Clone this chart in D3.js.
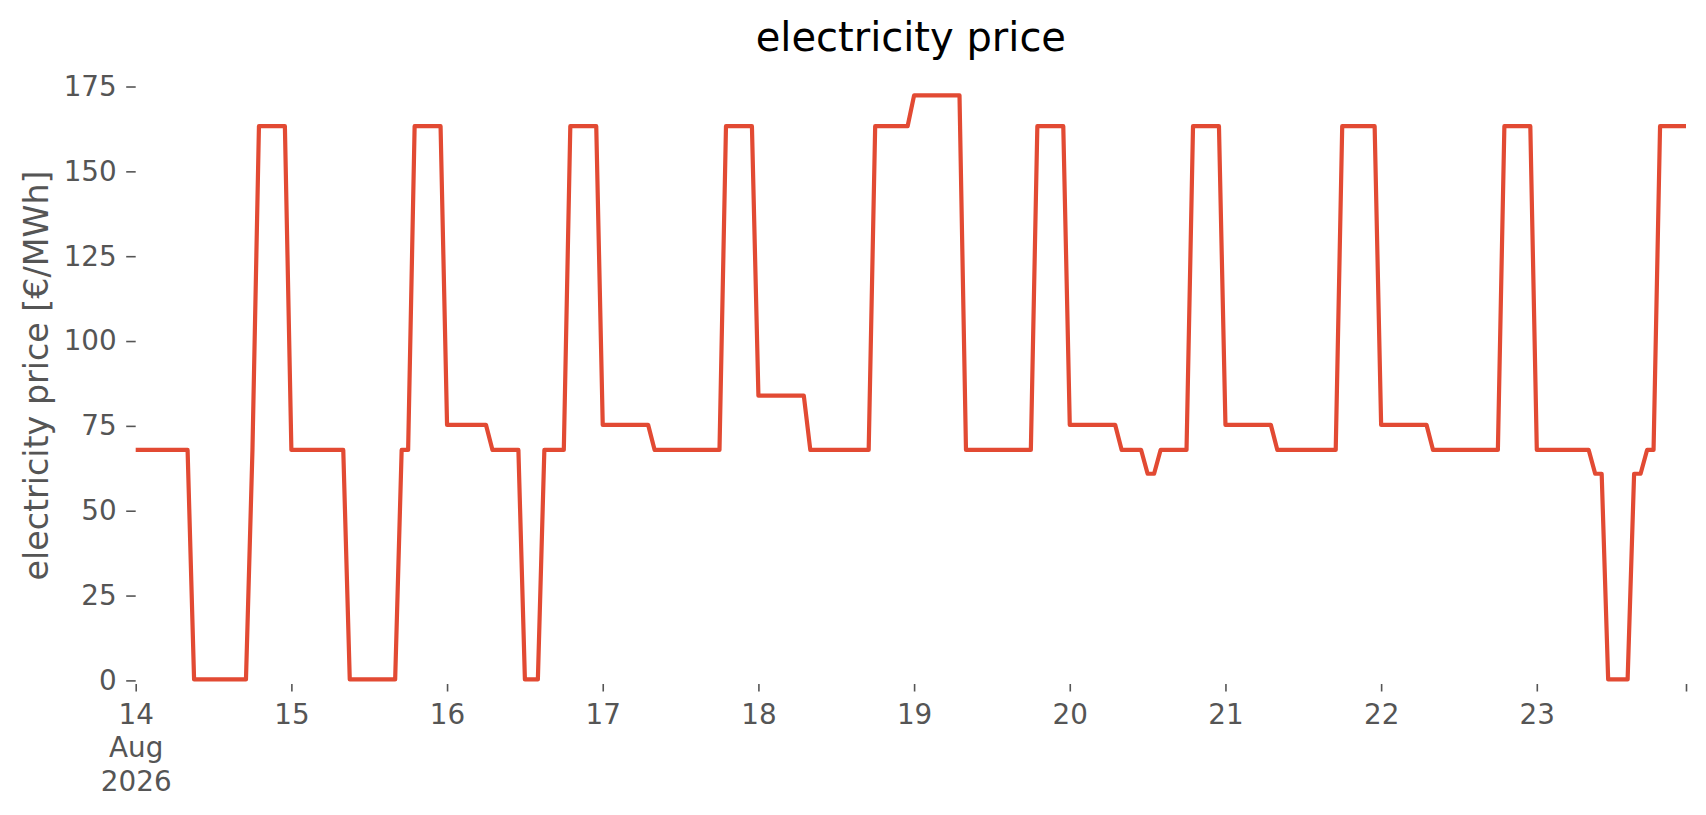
<!DOCTYPE html>
<html>
<head>
<meta charset="utf-8">
<script src="https://cdn.jsdelivr.net/npm/d3@7/dist/d3.min.js"></script>
<style>
  html, body { margin: 0; padding: 0; background: #ffffff; }
  svg { display: block; }
</style>
</head>
<body>
<script>
// ---- data (hourly electricity price, €/MWh) ----
const startDate = "2026-08-14T00:00:00Z";
const day14 = [67.9,67.9,67.9,67.9,67.9,67.9,67.9,67.9,67.9, 0.3,0.3,0.3,0.3,0.3,0.3,0.3,0.3,0.3, 67.9, 163.3,163.3,163.3,163.3,163.3];
const day15 = [67.9,67.9,67.9,67.9,67.9,67.9,67.9,67.9,67.9, 0.3,0.3,0.3,0.3,0.3,0.3,0.3,0.3, 67.9,67.9, 163.3,163.3,163.3,163.3,163.3];
const day16 = [75.3,75.3,75.3,75.3,75.3,75.3,75.3, 67.9,67.9,67.9,67.9,67.9, 0.3,0.3,0.3, 67.9,67.9,67.9,67.9, 163.3,163.3,163.3,163.3,163.3];
const day17 = [75.3,75.3,75.3,75.3,75.3,75.3,75.3,75.3, 67.9,67.9,67.9,67.9,67.9,67.9,67.9,67.9,67.9,67.9,67.9, 163.3,163.3,163.3,163.3,163.3];
const day18 = [83.9,83.9,83.9,83.9,83.9,83.9,83.9,83.9, 67.9,67.9,67.9,67.9,67.9,67.9,67.9,67.9,67.9,67.9, 163.3,163.3,163.3,163.3,163.3,163.3];
const day19 = [172.4,172.4,172.4,172.4,172.4,172.4,172.4,172.4, 67.9,67.9,67.9,67.9,67.9,67.9,67.9,67.9,67.9,67.9,67.9, 163.3,163.3,163.3,163.3,163.3];
const day20 = [75.3,75.3,75.3,75.3,75.3,75.3,75.3,75.3, 67.9,67.9,67.9,67.9, 60.9,60.9, 67.9,67.9,67.9,67.9,67.9, 163.3,163.3,163.3,163.3,163.3];
const day21 = [75.3,75.3,75.3,75.3,75.3,75.3,75.3,75.3, 67.9,67.9,67.9,67.9,67.9,67.9,67.9,67.9,67.9,67.9, 163.3,163.3,163.3,163.3,163.3,163.3];
const day22 = [75.3,75.3,75.3,75.3,75.3,75.3,75.3,75.3, 67.9,67.9,67.9,67.9,67.9,67.9,67.9,67.9,67.9,67.9,67.9, 163.3,163.3,163.3,163.3,163.3];
const day23 = [67.9,67.9,67.9,67.9,67.9,67.9,67.9,67.9,67.9, 60.9,60.9, 0.3,0.3,0.3,0.3, 60.9,60.9, 67.9,67.9, 163.3,163.3,163.3,163.3,163.3];

const yTicks = [0, 25, 50, 75, 100, 125, 150, 175];
const xTickDays = ["14","15","16","17","18","19","20","21","22","23"];
const firstTickExtra = ["Aug", "2026"];
const titleText = "electricity price";
const yLabelText = "electricity price [€/MWh]";

// ---- build series ----
const hourly = [].concat(day14, day15, day16, day17, day18, day19, day20, day21, day22, day23);
const t0 = new Date(startDate);
const series = hourly.map((v, i) => ({ t: new Date(t0.getTime() + i * 3600e3), v }));

// ---- layout ----
const W = 1706, H = 815;
const plotL = 135.7, plotR = 1686, plotT = 67, plotB = 684;
const FONT = "'DejaVu Sans', sans-serif";
const TICK_COLOR = "#555555";

const svg = d3.select("body").append("svg")
  .attr("width", W).attr("height", H)
  .style("background", "#ffffff");

const x = d3.scaleUtc()
  .domain([series[0].t, series[series.length - 1].t])
  .range([plotL, plotR]);

const y = d3.scaleLinear()
  .domain([-1.06, 180.75])
  .range([plotB, plotT]);

// ---- y axis ----
const yAxis = d3.axisLeft(y).tickValues(yTicks).tickSize(9.5).tickPadding(9.5)
  .tickFormat(d3.format("d"));
const gy = svg.append("g").attr("transform", `translate(${plotL},0)`).call(yAxis);
gy.select(".domain").remove();
gy.selectAll(".tick line").attr("stroke", TICK_COLOR).attr("stroke-width", 1.6);
gy.selectAll(".tick text")
  .attr("fill", TICK_COLOR)
  .style("font-family", FONT).style("font-size", "27.8px");

// ---- x axis ----
const dayDates = xTickDays.map((d, i) => new Date(t0.getTime() + i * 86400e3));
const xTickValues = dayDates.concat([series[series.length - 1].t]);
const xAxis = d3.axisBottom(x).tickValues(xTickValues).tickSize(7.5).tickPadding(0)
  .tickFormat((d, i) => i < xTickDays.length ? xTickDays[i] : "");
const gx = svg.append("g").attr("transform", `translate(0,${plotB})`).call(xAxis);
gx.select(".domain").remove();
gx.selectAll(".tick line").attr("stroke", TICK_COLOR).attr("stroke-width", 1.6);
gx.selectAll(".tick text")
  .attr("fill", TICK_COLOR)
  .attr("y", 40).attr("dy", null)
  .style("font-family", FONT).style("font-size", "27.8px");
// multi-line first label
const firstTick = gx.selectAll(".tick").filter((d, i) => i === 0);
firstTickExtra.forEach((txt, k) => {
  firstTick.append("text")
    .attr("fill", TICK_COLOR)
    .attr("text-anchor", "middle")
    .attr("y", 40 + 33.4 * (k + 1))
    .style("font-family", FONT).style("font-size", "27.8px")
    .text(txt);
});

// ---- line ----
const line = d3.line().x(d => x(d.t)).y(d => y(d.v));
svg.append("path")
  .datum(series)
  .attr("fill", "none")
  .attr("stroke", "#E24A33")
  .attr("stroke-width", 4.2)
  .attr("stroke-linejoin", "round")
  .attr("stroke-linecap", "butt")
  .attr("d", line);

// ---- title ----
svg.append("text")
  .attr("x", (plotL + plotR) / 2).attr("y", 51)
  .attr("text-anchor", "middle")
  .attr("fill", "#000000")
  .style("font-family", FONT).style("font-size", "40px")
  .text(titleText);

// ---- y label ----
svg.append("text")
  .attr("transform", `translate(48,${(plotT + plotB) / 2}) rotate(-90)`)
  .attr("text-anchor", "middle")
  .attr("fill", TICK_COLOR)
  .style("font-family", FONT).style("font-size", "33.3px")
  .text(yLabelText);
</script>
</body>
</html>
